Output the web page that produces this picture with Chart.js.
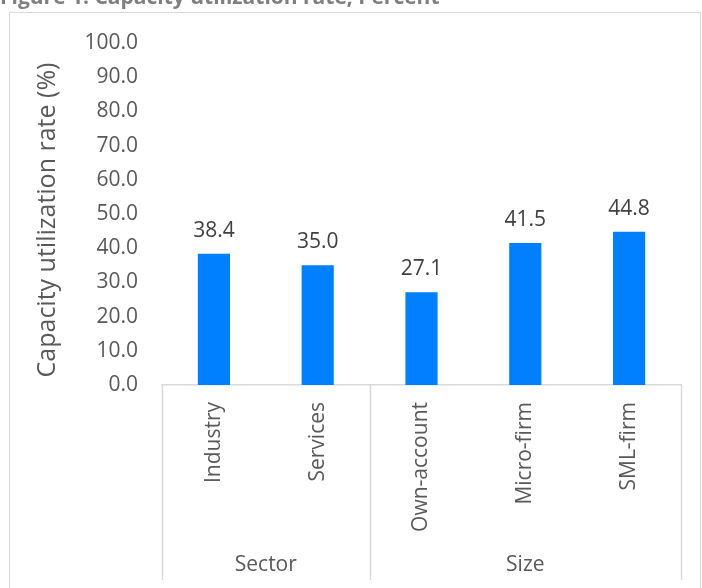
<!DOCTYPE html>
<html>
<head>
<meta charset="utf-8">
<script src="https://cdn.jsdelivr.net/npm/chart.js@4/dist/chart.umd.min.js"></script>
<style>
  html, body { margin: 0; padding: 0; background: #fff; }
  #wrap { position: relative; width: 702px; height: 588px; overflow: hidden; }
  #frame { position: absolute; left: 9px; top: 12px; width: 692px; height: 620px;
           border: 1.5px solid #d9d9d9; box-sizing: border-box; }
  #c { position: absolute; left: 0; top: 0; }
</style>
</head>
<body>
<div id="wrap">
  <div id="frame"></div>
  <canvas id="c" width="702" height="588"></canvas>
</div>
<script>
// Capacity utilization by sector and by firm size
const categories = ['Industry', 'Services', 'Own-account', 'Micro-firm', 'SML-firm'];
const utilization = [38.4, 35.0, 27.1, 41.5, 44.8];
const groupLabels = ['Sector', 'Size'];
const groupSizes = [2, 3];
const yMin = 0, yMax = 100, yStep = 10;

const chartTitle = 'Figure 1: Capacity utilization rate, Percent';
const yAxisTitle = 'Capacity utilization rate (%)';

const FONT = '"Open Sans", "DejaVu Sans", sans-serif';
const TEXT = '#595959';
const LINE = '#d9d9d9';

// Title, rotated axis title, value labels and the two-level category grouping
const decorations = {
  id: 'decorations',
  afterDraw(chart) {
    const ctx = chart.ctx;
    const x = chart.scales.x;
    const area = chart.chartArea;
    ctx.save();

    // figure title
    ctx.font = 'bold 21px ' + FONT;
    ctx.fillStyle = '#7f7f7f';
    ctx.textAlign = 'left';
    ctx.textBaseline = 'alphabetic';
    ctx.fillText(chartTitle, 0, 4);

    // y axis title
    ctx.save();
    ctx.translate(48, 220);
    ctx.rotate(-Math.PI / 2);
    ctx.font = '25px ' + FONT;
    ctx.fillStyle = TEXT;
    ctx.textAlign = 'center';
    ctx.textBaseline = 'middle';
    ctx.fillText(yAxisTitle, 0, 0);
    ctx.restore();

    // value labels above bars
    const meta = chart.getDatasetMeta(0);
    ctx.font = '21px ' + FONT;
    ctx.fillStyle = '#404040';
    ctx.textAlign = 'center';
    ctx.textBaseline = 'alphabetic';
    meta.data.forEach((bar, i) => {
      ctx.fillText(utilization[i].toFixed(1), bar.x, bar.y - 17);
    });

    // group separators and group labels under the category axis
    const half = (x.getPixelForTick(1) - x.getPixelForTick(0)) / 2;
    const lineBottom = 580;
    ctx.strokeStyle = LINE;
    ctx.lineWidth = 1.5;
    let start = 0;
    const edges = [x.getPixelForTick(0) - half];
    groupSizes.forEach(n => {
      edges.push(x.getPixelForTick(start + n - 1) + half);
      start += n;
    });
    edges.forEach(px => {
      ctx.beginPath();
      ctx.moveTo(Math.round(px) + 0.5, area.bottom);
      ctx.lineTo(Math.round(px) + 0.5, lineBottom);
      ctx.stroke();
    });
    ctx.font = '21px ' + FONT;
    ctx.fillStyle = TEXT;
    ctx.textBaseline = 'middle';
    groupLabels.forEach((label, g) => {
      ctx.fillText(label, (edges[g] + edges[g + 1]) / 2, 565);
    });

    ctx.restore();
  }
};

function draw() {
  new Chart(document.getElementById('c'), {
    type: 'bar',
    data: {
      labels: categories,
      datasets: [{
        data: utilization,
        backgroundColor: '#0080ff',
        borderWidth: 0,
        categoryPercentage: 1,
        barPercentage: 0.31
      }]
    },
    options: {
      responsive: false,
      animation: false,
      layout: { padding: { left: 0, top: 43, right: 21, bottom: 0 } },
      plugins: { legend: { display: false }, tooltip: { enabled: false } },
      scales: {
        x: {
          grid: { display: false, drawTicks: false },
          border: { display: true, color: LINE, width: 1.5 },
          ticks: {
            autoSkip: false,
            minRotation: 90,
            maxRotation: 90,
            padding: 17,
            color: TEXT,
            font: { family: FONT, size: 21 }
          },
          afterFit(scale) { scale.height = 203; }
        },
        y: {
          min: yMin,
          max: yMax,
          grid: { display: false, drawTicks: false },
          border: { display: false },
          ticks: {
            stepSize: yStep,
            padding: 24,
            color: TEXT,
            font: { family: FONT, size: 21 },
            callback: v => Number(v).toFixed(1)
          },
          afterFit(scale) { scale.width = 162; }
        }
      }
    },
    plugins: [decorations]
  });
}

if (document.fonts && document.fonts.load) {
  Promise.all([
    document.fonts.load('21px "Open Sans"'),
    document.fonts.load('bold 21px "Open Sans"')
  ]).then(draw, draw);
} else {
  draw();
}
</script>
</body>
</html>
